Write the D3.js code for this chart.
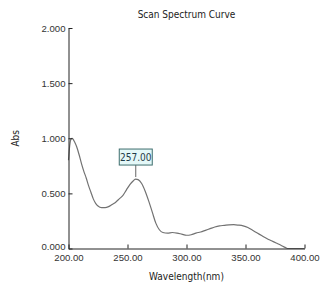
<!DOCTYPE html>
<html>
<head>
<meta charset="utf-8">
<script src="https://cdn.jsdelivr.net/npm/d3@7"></script>
<style>
  body { margin: 0; background: #fff; }
  svg { display: block; font-family: "DejaVu Sans Condensed", "DejaVu Sans", sans-serif; }
</style>
</head>
<body>
<div id="chart"></div>
<script>
// --- Data ---
const wavelength = [200, 201, 202, 203, 204, 205, 207, 209, 211, 213, 215, 217, 219, 221, 223, 225, 228, 231, 234, 237,
  240, 243, 246, 249, 252, 255, 257, 259, 262, 265, 268, 271, 274, 277, 280, 284, 288, 292, 296, 300,
  304, 308, 312, 316, 320, 324, 328, 332, 336, 340, 344, 348, 352, 356, 360, 364, 368, 372, 376, 380,
  384, 386, 390, 395, 400];
const absorbance = [0.80, 0.93, 0.99, 1.00, 0.99, 0.97, 0.92, 0.85, 0.77, 0.70, 0.64, 0.57, 0.51, 0.45, 0.41, 0.385, 0.37, 0.37, 0.38, 0.40,
  0.42, 0.45, 0.48, 0.53, 0.58, 0.615, 0.63, 0.625, 0.59, 0.52, 0.43, 0.33, 0.23, 0.17, 0.145, 0.14, 0.145, 0.14, 0.13, 0.12,
  0.125, 0.14, 0.15, 0.165, 0.18, 0.195, 0.205, 0.21, 0.215, 0.216, 0.212, 0.205, 0.19, 0.165, 0.14, 0.115, 0.09, 0.07, 0.05, 0.03,
  0.008, 0, 0, 0, 0];
const xTicks = [200, 250, 300, 350, 400];
const yTicks = [0, 0.5, 1, 1.5, 2];
const peakWl = 257;

const data = wavelength.map((w, i) => ({ w: w, a: absorbance[i] }));

// --- Kích thước ---
const W = 321, H = 285;
const margin = { top: 28, right: 16.5, bottom: 36.5, left: 68.5 },
      width = W - margin.left - margin.right,
      height = H - margin.top - margin.bottom;

const svg = d3.select("#chart").append("svg")
    .attr("width", W)
    .attr("height", H);

svg.append("rect").attr("width", W).attr("height", H).attr("fill", "#fff");

const g = svg.append("g")
    .attr("transform", `translate(${margin.left},${margin.top})`);

// --- Scale ---
const x = d3.scaleLinear().domain([200, 400]).range([0, width]);
const y = d3.scaleLinear().domain([0, 2]).range([height, 0]);

// --- Đường cong ---
const line = d3.line()
    .x(d => x(d.w))
    .y(d => y(d.a))
    .curve(d3.curveMonotoneX);

g.append("path")
    .datum(data)
    .attr("fill", "none")
    .attr("stroke", "#727272")
    .attr("stroke-width", 1.2)
    .attr("d", line);

// --- Trục ---
const xAxis = g.append("g")
    .attr("transform", `translate(0,${height})`)
    .call(d3.axisBottom(x).tickValues(xTicks).tickFormat(d3.format(".2f"))
      .tickSize(-4).tickSizeOuter(0).tickPadding(6));

const yAxis = g.append("g")
    .call(d3.axisLeft(y).tickValues(yTicks).tickFormat(d3.format(".3f"))
      .tickSize(2.5).tickSizeOuter(0).tickPadding(0.5));

yAxis.selectAll(".tick line").attr("x2", 4);
// nhãn 0.000 nhích lên một chút để không chạm 200.00
yAxis.selectAll(".tick text").attr("dy", d => d === 0 ? "0.1em" : "0.32em");

[xAxis, yAxis].forEach(a => {
  a.select(".domain").attr("stroke", "#222");
  a.selectAll(".tick line").attr("stroke", "#222");
  a.selectAll(".tick text").attr("fill", "#333").style("font-size", "9.6px");
});

// --- Nhãn đỉnh ---
const peakA = absorbance[wavelength.indexOf(peakWl)];
const px = x(peakWl), py = y(peakA);
const boxW = 33, boxH = 16;

g.append("line")
    .attr("x1", px).attr("x2", px)
    .attr("y1", py - 2).attr("y2", py - 14)
    .attr("stroke", "#666");

g.append("rect")
    .attr("x", px - boxW / 2).attr("y", py - 14 - boxH)
    .attr("width", boxW).attr("height", boxH)
    .attr("fill", "#e4f8f8")
    .attr("stroke", "#3d6d6d");

g.append("text")
    .attr("x", px).attr("y", py - 14 - boxH / 2 + 3.7)
    .attr("text-anchor", "middle")
    .attr("fill", "#1f3b48")
    .style("font-size", "10px")
    .text(peakWl.toFixed(2));

// --- Tiêu đề ---
svg.append("text")
    .attr("x", margin.left + width / 2)
    .attr("y", 17.5)
    .attr("text-anchor", "middle")
    .attr("fill", "#222")
    .style("font-size", "10px")
    .text("Scan Spectrum Curve");

// Nhãn trục X
svg.append("text")
    .attr("x", margin.left + width / 2)
    .attr("y", 280)
    .attr("text-anchor", "middle")
    .attr("fill", "#222")
    .style("font-size", "10px")
    .text("Wavelength(nm)");

// Nhãn trục Y
svg.append("text")
    .attr("transform", `translate(18.5,${margin.top + height / 2}) rotate(-90)`)
    .attr("text-anchor", "middle")
    .attr("fill", "#222")
    .style("font-size", "10px")
    .text("Abs");
</script>
</body>
</html>
